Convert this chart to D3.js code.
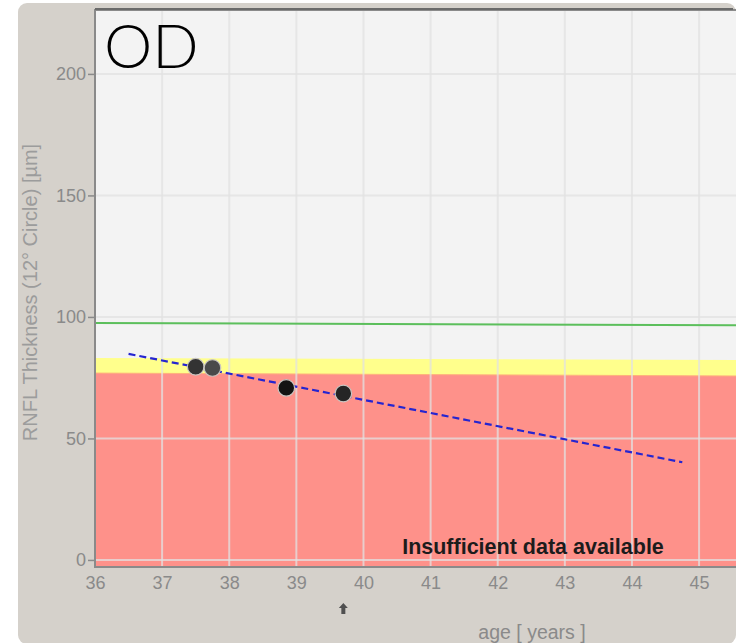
<!DOCTYPE html>
<html>
<head>
<meta charset="utf-8">
<script src="https://cdn.jsdelivr.net/npm/d3@7"></script>
<style>
  html, body { margin: 0; padding: 0; background: #ffffff; }
  svg { display: block; }
</style>
</head>
<body>
<svg id="chart" width="737" height="643"></svg>
<script>
// RNFL thickness progression (12° circle), right eye
const visitAges = [37.5, 37.75, 38.85, 39.7];
const visitThickness = [79.5, 79, 70.8, 68.5];
const visitShades = ["#333333", "#4a4a4a", "#131313", "#252525"];

// Normative reference boundaries, sampled at the edges of the age range
const normAges = [36, 45.55];
const normalLine = [97.5, 96.6];
const borderlineTop = [83.1, 82.3];
const outsideTop = [76.9, 75.7];

// Linear trend fitted through the visits
const trendAges = [36.5, 44.75];
const trendValues = [84.8, 40.2];

const xTicks = [36, 37, 38, 39, 40, 41, 42, 43, 44, 45];
const yTicks = [0, 50, 100, 150, 200];

const eyeLabel = "OD";
const yTitle = "RNFL Thickness (12° Circle) [µm]";
const xTitle = "age [ years ]";
const notice = "Insufficient data available";

const svg = d3.select("#chart");
const W = 737, H = 643;
const plot = { left: 95, top: 10, right: 736, bottom: 567 };

const x = d3.scaleLinear().domain([36, 45.55]).range([plot.left, plot.right]);
const y = d3.scaleLinear().domain([-2.9, 226.3]).range([plot.bottom, plot.top]);

// panel background
svg.append("rect")
  .attr("x", 18).attr("y", 3).attr("width", W - 19).attr("height", H - 2)
  .attr("rx", 9).attr("fill", "#d5d1cb");

svg.append("defs").append("clipPath").attr("id", "plotClip")
  .append("rect").attr("x", plot.left).attr("y", plot.top)
  .attr("width", plot.right - plot.left).attr("height", plot.bottom - plot.top);

const g = svg.append("g").attr("clip-path", "url(#plotClip)");

g.append("rect")
  .attr("x", plot.left).attr("y", plot.top)
  .attr("width", plot.right - plot.left).attr("height", plot.bottom - plot.top)
  .attr("fill", "#f3f3f3");

// normative bands
const bandPts = (top, bottomFn) => normAges.map((a, i) => [x(a), y(top[i])])
  .concat(normAges.slice().reverse().map((a, j) => [x(a), bottomFn(normAges.length - 1 - j)]));

g.append("path")
  .attr("d", d3.line()(bandPts(borderlineTop, i => y(outsideTop[i]))))
  .attr("fill", "#ffff8c");
g.append("path")
  .attr("d", d3.line()(bandPts(outsideTop, () => plot.bottom + 5)))
  .attr("fill", "#fe918a");
g.append("path")
  .attr("d", d3.line()(normAges.map((a, i) => [x(a), y(outsideTop[i])])))
  .attr("fill", "none").attr("stroke", "#ffb27a").attr("stroke-width", 1);

// grid
const grid = g.append("g").attr("stroke", "#e2e2e2").attr("stroke-opacity", 0.75).attr("stroke-width", 2);
grid.selectAll("line.v").data(xTicks).join("line")
  .attr("x1", d => x(d)).attr("x2", d => x(d))
  .attr("y1", plot.top).attr("y2", plot.bottom);
grid.selectAll("line.h").data(yTicks).join("line")
  .attr("x1", plot.left).attr("x2", plot.right)
  .attr("y1", d => y(d)).attr("y2", d => y(d));

// normal reference line
g.append("path")
  .attr("d", d3.line()(normAges.map((a, i) => [x(a), y(normalLine[i])])))
  .attr("fill", "none").attr("stroke", "#5cbf5c").attr("stroke-width", 2);

// trend line
g.append("path")
  .attr("d", d3.line()(trendAges.map((a, i) => [x(a), y(trendValues[i])])))
  .attr("fill", "none").attr("stroke", "#2525d0").attr("stroke-width", 2.2)
  .attr("stroke-dasharray", "7,4");

// visits
g.selectAll("circle.visit").data(visitAges).join("circle")
  .attr("class", "visit")
  .attr("cx", d => x(d))
  .attr("cy", (d, i) => y(visitThickness[i]))
  .attr("r", 8.3)
  .attr("fill", (d, i) => visitShades[i])
  .attr("stroke", "#c8c4c0").attr("stroke-width", 1.2);

// notice
g.append("text")
  .attr("x", 533).attr("y", 554)
  .attr("text-anchor", "middle")
  .attr("font-family", "Liberation Sans, Arial, sans-serif")
  .attr("font-weight", "bold").attr("font-size", 21.5)
  .attr("fill", "#1c1c1c")
  .text(notice);

// eye label
g.append("text")
  .attr("x", 104).attr("y", 68)
  .attr("font-family", "Lato, sans-serif")
  .attr("font-weight", 300).attr("font-size", 61)
  .attr("fill", "#000")
  .text(eyeLabel);

// frame
svg.append("path")
  .attr("d", `M${plot.right},${plot.top} H${plot.left} V${plot.bottom} H${plot.right}`)
  .attr("fill", "none").attr("stroke", "#8a8a8a").attr("stroke-width", 2);
svg.append("line")
  .attr("x1", plot.left).attr("x2", plot.right - 3)
  .attr("y1", plot.top - 1).attr("y2", plot.top - 1)
  .attr("stroke", "#6a6a6a").attr("stroke-width", 2);

// axes
const tickFont = "Liberation Sans, Arial, sans-serif";
const yAxis = svg.append("g")
  .attr("transform", `translate(${plot.left - 1},0)`)
  .call(d3.axisLeft(y).tickValues(yTicks).tickSize(6).tickPadding(2));
const xAxis = svg.append("g")
  .attr("transform", `translate(0,${plot.bottom})`)
  .call(d3.axisBottom(x).tickValues(xTicks).tickSize(0).tickPadding(9));
[yAxis, xAxis].forEach(a => {
  a.select(".domain").remove();
  a.selectAll("line").attr("stroke", "#8a8a8a").attr("stroke-width", 1.5);
  a.selectAll("text").attr("fill", "#8a8a8a").attr("font-size", 18).attr("font-family", tickFont);
});

// axis titles
svg.append("text")
  .attr("transform", `translate(37,${(plot.top + plot.bottom) / 2 + 4}) rotate(-90)`)
  .attr("text-anchor", "middle")
  .attr("font-family", tickFont).attr("font-size", 20)
  .attr("fill", "#9c9c9c")
  .text(yTitle);

svg.append("text")
  .attr("x", 532).attr("y", 639)
  .attr("text-anchor", "middle")
  .attr("font-family", tickFont).attr("font-size", 19.5)
  .attr("fill", "#8a8a8a")
  .text(xTitle);

// marker for the most recent visit
const lastAge = visitAges[visitAges.length - 1];
const ax = x(lastAge), ay = 603;
svg.append("path")
  .attr("d", `M${ax},${ay} L${ax + 4.5},${ay + 5} L${ax + 2},${ay + 5} L${ax + 2},${ay + 11} L${ax - 2},${ay + 11} L${ax - 2},${ay + 5} L${ax - 4.5},${ay + 5} Z`)
  .attr("fill", "#505050");
</script>
</body>
</html>
